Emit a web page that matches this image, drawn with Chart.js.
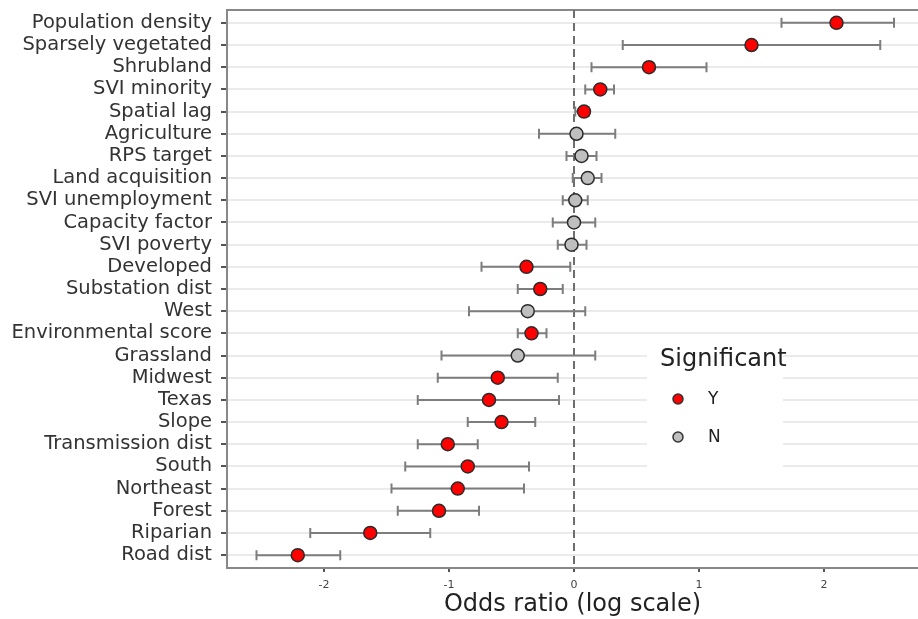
<!DOCTYPE html>
<html lang="en">
<head>
    <meta charset="UTF-8">
    <title>Odds ratios</title>
    <style>
        html, body { margin: 0; padding: 0; background: #fff; overflow: hidden; }
        /* a little wider than the window: the panel runs off the right edge like the original */
        .chart-container { width: 926px; height: 619px; }
    </style>
</head>
<body>
    <div class="chart-container">
        <canvas id="forestChart"></canvas>
    </div>
    <script src="https://cdn.jsdelivr.net/npm/chart.js"></script>
    <script>
        const variables = ['Population density', 'Sparsely vegetated', 'Shrubland', 'SVI minority', 'Spatial lag',
            'Agriculture', 'RPS target', 'Land acquisition', 'SVI unemployment', 'Capacity factor', 'SVI poverty',
            'Developed', 'Substation dist', 'West', 'Environmental score', 'Grassland', 'Midwest', 'Texas', 'Slope',
            'Transmission dist', 'South', 'Northeast', 'Forest', 'Riparian', 'Road dist'];

        const estimate = [2.10, 1.42, 0.60, 0.21, 0.08, 0.02, 0.06, 0.11, 0.01, 0.00, -0.02,
            -0.38, -0.27, -0.37, -0.34, -0.45, -0.61, -0.68, -0.58, -1.01, -0.85, -0.93, -1.08, -1.63, -2.21];
        const lower = [1.66, 0.39, 0.14, 0.09, 0.01, -0.28, -0.06, -0.01, -0.09, -0.17, -0.13,
            -0.74, -0.45, -0.84, -0.45, -1.06, -1.09, -1.25, -0.85, -1.25, -1.35, -1.46, -1.41, -2.11, -2.54];
        const upper = [2.56, 2.45, 1.06, 0.32, 0.12, 0.33, 0.18, 0.22, 0.11, 0.17, 0.10,
            -0.03, -0.09, 0.09, -0.22, 0.17, -0.13, -0.12, -0.31, -0.77, -0.36, -0.40, -0.76, -1.15, -1.87];
        const significant = ['Y', 'Y', 'Y', 'Y', 'Y', 'N', 'N', 'N', 'N', 'N', 'N',
            'Y', 'Y', 'N', 'Y', 'N', 'Y', 'Y', 'Y', 'Y', 'Y', 'Y', 'Y', 'Y', 'Y'];
        const xTicks = [-2, -1, 0, 1, 2];

        const colours = { Y: '#ff0000', N: '#bfbfbf' };
        const FONT = 'DejaVu Sans';

        function pointsFor(flag) {
            const pts = [];
            estimate.forEach((v, i) => {
                if (significant[i] === flag) pts.push({ x: v, y: i });
            });
            return pts;
        }

        // error bars, zero line, frame and legend
        const forestExtras = {
            id: 'forestExtras',
            beforeDatasetsDraw(chart) {
                const { ctx, chartArea, scales: { x, y } } = chart;
                ctx.save();

                // top frame line
                ctx.strokeStyle = '#888';
                ctx.lineWidth = 2;
                ctx.beginPath();
                ctx.moveTo(chartArea.left, chartArea.top);
                ctx.lineTo(chartArea.right, chartArea.top);
                ctx.stroke();

                // legend background
                ctx.fillStyle = '#fff';
                ctx.fillRect(647, 338, 136, 134);

                // dashed line at 0
                const x0 = x.getPixelForValue(0);
                ctx.strokeStyle = '#6e6e6e';
                ctx.setLineDash([8, 5]);
                ctx.beginPath();
                ctx.moveTo(x0, chartArea.top);
                ctx.lineTo(x0, chartArea.bottom);
                ctx.stroke();
                ctx.setLineDash([]);

                // confidence intervals
                ctx.strokeStyle = '#7d7d7d';
                ctx.lineWidth = 2;
                variables.forEach((_, i) => {
                    const yp = y.getPixelForValue(i);
                    const xl = x.getPixelForValue(lower[i]);
                    const xh = x.getPixelForValue(upper[i]);
                    ctx.beginPath();
                    ctx.moveTo(xl, yp);
                    ctx.lineTo(xh, yp);
                    ctx.moveTo(xl, yp - 5);
                    ctx.lineTo(xl, yp + 5);
                    ctx.moveTo(xh, yp - 5);
                    ctx.lineTo(xh, yp + 5);
                    ctx.stroke();
                });
                ctx.restore();
            },
            afterDraw(chart) {
                const { ctx } = chart;
                ctx.save();
                ctx.fillStyle = '#222';
                ctx.textBaseline = 'alphabetic';
                ctx.font = '24px "' + FONT + '"';
                ctx.fillText('Significant', 660, 366);

                ctx.font = '17px "' + FONT + '"';
                ctx.textBaseline = 'middle';
                [['Y', 399], ['N', 437]].forEach(([flag, yy]) => {
                    ctx.beginPath();
                    ctx.arc(678, yy, 5, 0, Math.PI * 2);
                    ctx.fillStyle = colours[flag];
                    ctx.fill();
                    ctx.lineWidth = 1.5;
                    ctx.strokeStyle = '#333';
                    ctx.stroke();
                    ctx.fillStyle = '#222';
                    ctx.fillText(flag, 708, yy + 1);
                });
                ctx.restore();
            }
        };

        const ctx = document.getElementById('forestChart').getContext('2d');
        new Chart(ctx, {
            type: 'scatter',
            data: {
                datasets: ['Y', 'N'].map(flag => ({
                    label: flag,
                    data: pointsFor(flag),
                    backgroundColor: colours[flag],
                    borderColor: '#2b2b2b',
                    borderWidth: 1.5,
                    pointRadius: 6.5
                }))
            },
            options: {
                responsive: true,
                maintainAspectRatio: false,
                animation: false,
                layout: { padding: { top: 10, right: 0, left: 0, bottom: 0 } },
                plugins: {
                    legend: { display: false },
                    tooltip: { enabled: false }
                },
                scales: {
                    x: {
                        type: 'linear',
                        min: -2.776,
                        max: 2.752,
                        afterBuildTicks: scale => { scale.ticks = xTicks.map(v => ({ value: v })); },
                        afterFit: scale => {
                            scale.height = 51;
                            scale.paddingLeft = 0;
                            scale.paddingRight = 0;
                        },
                        grid: {
                            drawOnChartArea: false,
                            drawTicks: true,
                            tickLength: 4,
                            tickColor: '#555',
                            lineWidth: 2
                        },
                        border: { display: true, color: '#888', width: 2 },
                        ticks: {
                            padding: 7,
                            color: '#444',
                            font: { family: FONT, size: 11 },
                            callback: v => String(v)
                        },
                        title: {
                            display: true,
                            text: 'Odds ratio (log scale)',
                            color: '#222',
                            font: { family: FONT, size: 24 },
                            padding: { top: 0, bottom: 0 }
                        }
                    },
                    y: {
                        type: 'linear',
                        reverse: true,
                        min: -0.58,
                        max: variables.length - 1 + 0.58,
                        afterBuildTicks: scale => { scale.ticks = variables.map((_, i) => ({ value: i })); },
                        afterFit: scale => {
                            scale.width = 227;
                            scale.paddingTop = 0;
                            scale.paddingBottom = 0;
                        },
                        grid: {
                            color: '#ebebeb',
                            lineWidth: 2,
                            drawTicks: true,
                            tickLength: 6,
                            tickColor: '#555'
                        },
                        border: { display: true, color: '#888', width: 2 },
                        ticks: {
                            padding: 9,
                            color: '#333',
                            autoSkip: false,
                            font: { family: FONT, size: 19.5 },
                            callback: v => variables[v]
                        }
                    }
                }
            },
            plugins: [forestExtras]
        });
    </script>
</body>
</html>
